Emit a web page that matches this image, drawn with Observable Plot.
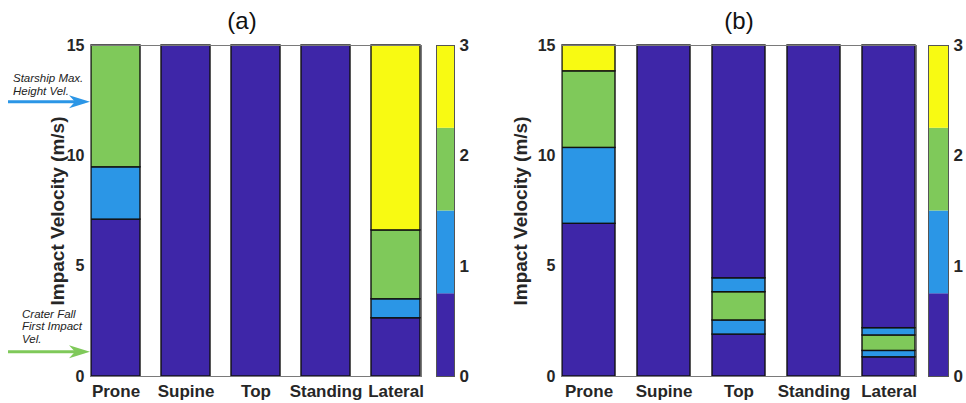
<!DOCTYPE html>
<html><head><meta charset="utf-8">
<script src="https://cdn.jsdelivr.net/npm/d3@7"></script>
<script src="https://cdn.jsdelivr.net/npm/@observablehq/plot@0.6"></script>
<style>
body{margin:0;background:#fff;}
#fig{position:relative;width:966px;height:403px;overflow:hidden;font-family:"Liberation Sans",Arial,sans-serif;}
#fig svg{position:absolute;top:0;}
</style></head><body><div id="fig"></div>
<script>
// ---- data ----
const categories = ["Prone", "Supine", "Top", "Standing", "Lateral"];
const levels = [0, 1, 2, 3];
// panel (a): segment tops (m/s) and level of each segment, per category
const aTops = [[7.11, 9.48, 15], [15], [15], [15], [2.64, 3.50, 6.62, 15]];
const aLevels = [[0, 1, 2], [0], [0], [0], [0, 1, 2, 3]];
// panel (b)
const bTops = [[6.92, 10.36, 13.83, 15], [15], [1.90, 2.54, 3.82, 4.45, 15], [15], [0.87, 1.16, 1.86, 2.19, 15]];
const bLevels = [[0, 1, 2, 3], [0], [0, 1, 2, 1, 0], [0], [0, 1, 2, 1, 0]];
// reference velocities shown as arrows on panel (a)
const arrowVel = [12.43, 1.10];
const arrowLevel = [1, 2];
const arrowLines = [["Starship Max.", "Height Vel."], ["Crater Fall", "First Impact", "Vel."]];
const yTicks = [0, 5, 10, 15];
const cbTicks = [0, 1, 2, 3];
const titles = ["(a)", "(b)"];
const yLabel = "Impact Velocity (m/s)";

// ---- styles ----
const colors = ["#3e26a8", "#2b96e6", "#7fc95a", "#f8fa12"];
const FONT = '"Liberation Sans", Arial, sans-serif';
const colorScale = {type: "ordinal", domain: levels, range: colors};

function segs(tops, lvls) {
  const out = [];
  categories.forEach((c, i) => {
    let lo = 0;
    tops[i].forEach((t, j) => { out.push({cat: c, y1: lo, y2: t, level: lvls[i][j]}); lo = t; });
  });
  return out;
}

function annotationMark(index, scales, values, dimensions) {
  const g = d3.create("svg:g");
  const xs = [13, 22];
  const lastOff = [7, 9];
  arrowVel.forEach((v, i) => {
    const yy = scales.y(v);
    const x0 = 8, x1 = dimensions.marginLeft;
    const c = colors[arrowLevel[i]];
    g.append("line").attr("x1", x0).attr("x2", x1 - 12).attr("y1", yy).attr("y2", yy)
      .attr("stroke", c).attr("stroke-width", 3);
    g.append("path").attr("d", `M${x1},${yy} L${x1 - 21},${yy - 6.5} L${x1 - 15},${yy} L${x1 - 21},${yy + 6.5} Z`)
      .attr("fill", c);
    const lines = arrowLines[i];
    lines.forEach((t, k) => {
      g.append("text").attr("x", xs[i]).attr("y", yy - lastOff[i] - 12.5 * (lines.length - 1 - k))
        .attr("text-anchor", "start").attr("font-style", "italic").attr("font-weight", "normal")
        .attr("font-size", 11.5).attr("fill", "#222").text(t);
    });
  });
  return g.node();
}

function panel({tops, lvls, title, left, width, mL, mR, labelDx, titleDx, annot}) {
  const marks = [
    Plot.barY(segs(tops, lvls), {x: "cat", y1: "y1", y2: "y2", fill: "level", stroke: "#111", strokeWidth: 1.4}),
    Plot.frame({stroke: "#7a7a7a"}),
    Plot.text([title], {text: d => d, frameAnchor: "top", dy: -24, dx: titleDx, fontSize: 24, fontWeight: "normal", lineAnchor: "middle", fill: "#111"}),
    Plot.text([yLabel], {text: d => d, frameAnchor: "left", rotate: -90, dx: labelDx, textAnchor: "middle", fontSize: 19, fontWeight: "bold", fill: "#262626"})
  ];
  if (annot) marks.push(annotationMark);
  const chart = Plot.plot({
    width, height: 403,
    marginLeft: mL, marginRight: mR, marginTop: 45, marginBottom: 27,
    x: {domain: categories, paddingInner: 0.3, paddingOuter: 0, label: null, tickSize: 0, tickPadding: 8, fontSize: 17},
    y: {domain: [0, 15], ticks: yTicks, tickSize: 0, tickPadding: 6, label: null, tickFormat: "d"},
    color: colorScale,
    style: {fontFamily: FONT, fontSize: "16px", fontWeight: "bold", color: "#262626", background: "transparent", overflow: "visible"},
    marks
  });
  chart.style.left = left + "px";
  // x tick labels slightly larger than y tick labels
  d3.select(chart).selectAll("g[aria-label='x-axis tick label'], g[aria-label='x-axis']").attr("font-size", 17);
  document.getElementById("fig").appendChild(chart);
}

function colorbar({left, width, mL, mR}) {
  const chart = Plot.plot({
    width, height: 403,
    marginLeft: mL, marginRight: mR, marginTop: 45, marginBottom: 27,
    y: {domain: [0, 3], ticks: cbTicks, tickSize: 0, tickPadding: 5, label: null, axis: "right", tickFormat: "d"},
    color: colorScale,
    style: {fontFamily: FONT, fontSize: "17px", fontWeight: "bold", color: "#262626", background: "transparent", overflow: "visible"},
    marks: [
      Plot.barY(levels, {y1: d => d * 3 / levels.length, y2: d => (d + 1) * 3 / levels.length, fill: d => d}),
      Plot.frame({stroke: "#555"})
    ]
  });
  chart.style.left = left + "px";
  document.getElementById("fig").appendChild(chart);
}

panel({tops: aTops, lvls: aLevels, title: titles[0], left: 0, width: 430, mL: 90, mR: 9, labelDx: -33, titleDx: -14, annot: true});
colorbar({left: 430, width: 50, mL: 6, mR: 26});
panel({tops: bTops, lvls: bLevels, title: titles[1], left: 480, width: 445, mL: 81, mR: 9, labelDx: -41, titleDx: 0, annot: false});
colorbar({left: 925, width: 41, mL: 3, mR: 18});
</script></body></html>
